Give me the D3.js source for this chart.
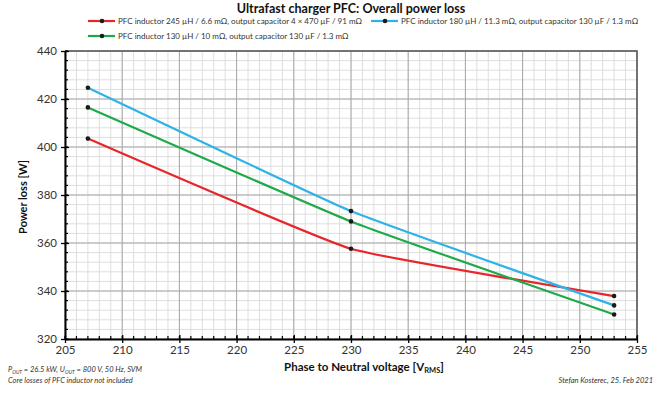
<!DOCTYPE html>
<html>
<head>
<meta charset="utf-8">
<script src="https://cdn.jsdelivr.net/npm/d3@7"></script>
<style>
  body { margin: 0; background: #fff; }
  svg text { font-family: Lato, "Open Sans", sans-serif; }
</style>
</head>
<body>
<div id="canvas"></div>
<script>
/* DATA */
const voltages = [207, 230, 253];
const lossRed = [403.5, 357.6, 337.9];
const lossBlue = [424.7, 373.3, 334.0];
const lossGreen = [416.5, 369.0, 330.2];
const seriesNames = [
    "PFC inductor 245 \u00b5H / 6.6 m\u03a9, output capacitor 4 \u00d7 470 \u00b5F / 91 m\u03a9",
    "PFC inductor 180 \u00b5H / 11.3 m\u03a9, output capacitor 130 \u00b5F / 1.3 m\u03a9",
    "PFC inductor 130 \u00b5H / 10 m\u03a9, output capacitor 130 \u00b5F / 1.3 m\u03a9"
];
const xTicks = [205, 210, 215, 220, 225, 230, 235, 240, 245, 250, 255];
const yTicks = [320, 340, 360, 380, 400, 420, 440];

/* CANVAS */
const width = 668;
const height = 396;
const svg = d3.select("#canvas")
    .append("svg")
    .attr("width", width)
    .attr("height", height);

const plotLeft = 65, plotRight = 637, plotTop = 51, plotBottom = 339;

const x = d3.scaleLinear().domain([205, 255]).range([plotLeft, plotRight]);
const y = d3.scaleLinear().domain([320, 440]).range([plotBottom, plotTop]);

/* GRID */
const minorX = d3.range(205, 256, 1);
const minorY = d3.range(320, 441, 4);

svg.append("g").selectAll("line")
    .data(minorX).join("line")
    .attr("x1", d => x(d)).attr("x2", d => x(d))
    .attr("y1", plotTop).attr("y2", plotBottom)
    .attr("stroke", "#dedede").attr("stroke-width", 1);

svg.append("g").selectAll("line")
    .data(minorY).join("line")
    .attr("x1", plotLeft).attr("x2", plotRight)
    .attr("y1", d => y(d)).attr("y2", d => y(d))
    .attr("stroke", "#dedede").attr("stroke-width", 1);

svg.append("g").selectAll("line")
    .data(xTicks).join("line")
    .attr("x1", d => x(d)).attr("x2", d => x(d))
    .attr("y1", plotTop).attr("y2", plotBottom)
    .attr("stroke", "#a8a8a8").attr("stroke-width", 1);

svg.append("g").selectAll("line")
    .data(yTicks).join("line")
    .attr("x1", plotLeft).attr("x2", plotRight)
    .attr("y1", d => y(d)).attr("y2", d => y(d))
    .attr("stroke", "#a8a8a8").attr("stroke-width", 1);

// top and right border
svg.append("path")
    .attr("d", `M${plotLeft},${plotTop}H${plotRight}V${plotBottom}`)
    .attr("fill", "none")
    .attr("stroke", "#555")
    .attr("stroke-width", 1.5);

/* AXES */
const minorTickLen = 3;
svg.append("g").selectAll("line")
    .data(minorX).join("line")
    .attr("x1", d => x(d)).attr("x2", d => x(d))
    .attr("y1", plotBottom).attr("y2", plotBottom - minorTickLen)
    .attr("stroke", "#000").attr("stroke-width", 1.2);

svg.append("g").selectAll("line")
    .data(minorY).join("line")
    .attr("x1", plotLeft).attr("x2", plotLeft + minorTickLen)
    .attr("y1", d => y(d)).attr("y2", d => y(d))
    .attr("stroke", "#000").attr("stroke-width", 1.2);

const xAxis = svg.append("g")
    .attr("transform", `translate(0,${plotBottom})`)
    .call(d3.axisBottom(x).tickValues(xTicks).tickSizeInner(4).tickSizeOuter(0).tickPadding(3));
xAxis.select(".domain").attr("stroke-width", 2);
xAxis.selectAll(".tick line").attr("y1", -4).attr("stroke-width", 1.3);
xAxis.selectAll("text").attr("font-size", 11.5).attr("fill", "#333");

const yAxis = svg.append("g")
    .attr("transform", `translate(${plotLeft},0)`)
    .call(d3.axisLeft(y).tickValues(yTicks).tickSizeInner(4).tickSizeOuter(0).tickPadding(4));
yAxis.select(".domain").attr("stroke-width", 2);
yAxis.selectAll(".tick line").attr("x1", 4).attr("x2", -4).attr("stroke-width", 1.3);
yAxis.selectAll("text").attr("font-size", 11.5).attr("fill", "#333");

/* LINES */
const series = [
    { values: lossRed, color: "#e8262a" },
    { values: lossBlue, color: "#2fb3e6" },
    { values: lossGreen, color: "#1faa4a" }
];

const line = d3.line()
    .x((d, i) => x(voltages[i]))
    .y(d => y(d))
    .curve(d3.curveCardinal.tension(0.65));

series.forEach(s => {
    svg.append("path")
        .datum(s.values)
        .attr("d", line)
        .attr("fill", "none")
        .attr("stroke", s.color)
        .attr("stroke-width", 2.2);
});

series.forEach(s => {
    svg.append("g").selectAll("circle")
        .data(s.values).join("circle")
        .attr("cx", (d, i) => x(voltages[i]))
        .attr("cy", d => y(d))
        .attr("r", 2.3)
        .attr("fill", "#1a1a1a");
});

/* TITLE AND LEGEND */
svg.append("text")
    .attr("x", 351).attr("y", 13)
    .attr("text-anchor", "middle")
    .attr("font-size", 12.5).attr("font-weight", "bold")
    .attr("fill", "#111")
    .text("Ultrafast charger PFC: Overall power loss");

const legendPos = [[88, 21], [371, 21], [88, 36]];
series.forEach((s, i) => {
    const [lx, ly] = legendPos[i];
    svg.append("line")
        .attr("x1", lx).attr("x2", lx + 27)
        .attr("y1", ly).attr("y2", ly)
        .attr("stroke", s.color).attr("stroke-width", 2.2);
    svg.append("circle")
        .attr("cx", lx + 14).attr("cy", ly).attr("r", 2.3)
        .attr("fill", "#1a1a1a");
    svg.append("text")
        .attr("x", lx + 30).attr("y", ly + 3)
        .attr("font-size", 8).attr("fill", "#333")
        .text(seriesNames[i]);
});

/* AXIS TITLES */
svg.append("text")
    .attr("transform", "translate(27,197) rotate(-90)")
    .attr("text-anchor", "middle")
    .attr("font-size", 11).attr("font-weight", "bold")
    .attr("fill", "#111")
    .text("Power loss [W]");

const xt = svg.append("text")
    .attr("x", 364).attr("y", 371)
    .attr("text-anchor", "middle")
    .attr("font-size", 11.5).attr("font-weight", "bold")
    .attr("fill", "#111");
xt.append("tspan").text("Phase to Neutral voltage [V");
xt.append("tspan").attr("font-size", 7.5).attr("dy", 2).text("RMS");
xt.append("tspan").attr("dy", -2).text("]");

/* NOTES */
const note1 = svg.append("text")
    .attr("x", 8).attr("y", 372)
    .attr("font-size", 7.5).attr("font-style", "italic")
    .attr("fill", "#333");
note1.append("tspan").text("P");
note1.append("tspan").attr("font-size", 5).attr("dy", 1.5).text("OUT");
note1.append("tspan").attr("dy", -1.5).text(" = 26.5 kW, U");
note1.append("tspan").attr("font-size", 5).attr("dy", 1.5).text("OUT");
note1.append("tspan").attr("dy", -1.5).text(" = 800 V, 50 Hz, SVM");

svg.append("text")
    .attr("x", 8).attr("y", 383)
    .attr("font-size", 7.5).attr("font-style", "italic")
    .attr("fill", "#333")
    .text("Core losses of PFC inductor not included");

svg.append("text")
    .attr("x", 653).attr("y", 383)
    .attr("text-anchor", "end")
    .attr("font-size", 7.5).attr("font-style", "italic")
    .attr("fill", "#333")
    .text("Stefan Kosterec, 25. Feb 2021");
</script>
</body>
</html>
